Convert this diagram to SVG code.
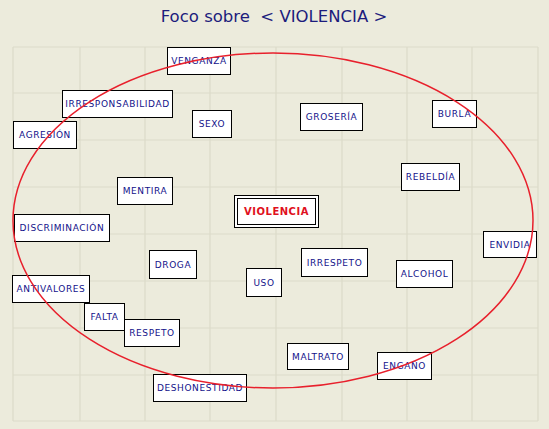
<svg xmlns="http://www.w3.org/2000/svg" width="549" height="429" viewBox="0 0 549 429">
<style>
.bg{fill:#ecebdc}
.grid line{stroke:#dcdbc9;stroke-width:1.2}
.box{fill:#ffffff;stroke:#000000;stroke-width:1}
.lbl{font-family:"DejaVu Sans",sans-serif;font-size:9px;fill:#12128a;text-anchor:middle;dominant-baseline:central;letter-spacing:0.6px}
.main{font-family:"DejaVu Sans",sans-serif;font-size:10px;font-weight:bold;fill:#e01020;text-anchor:middle;dominant-baseline:central;letter-spacing:0.5px}
.title{font-family:"DejaVu Sans",sans-serif;font-size:16.5px;fill:#1c1c7c;text-anchor:middle}
.ring{fill:none;stroke:#e8202c;stroke-width:1.5}
</style>
<rect class="bg" x="0" y="0" width="549" height="429"/>
<text class="title" x="274" y="22">Foco sobre &#160;&lt; VIOLENCIA &gt;</text>
<g class="grid">
<line x1="13" y1="47" x2="13" y2="421"/>
<line x1="80" y1="47" x2="80" y2="421"/>
<line x1="145" y1="47" x2="145" y2="421"/>
<line x1="210" y1="47" x2="210" y2="421"/>
<line x1="276" y1="47" x2="276" y2="421"/>
<line x1="342" y1="47" x2="342" y2="421"/>
<line x1="407" y1="47" x2="407" y2="421"/>
<line x1="472" y1="47" x2="472" y2="421"/>
<line x1="538" y1="47" x2="538" y2="421"/>
<line x1="13" y1="47" x2="538" y2="47"/>
<line x1="13" y1="93" x2="538" y2="93"/>
<line x1="13" y1="140" x2="538" y2="140"/>
<line x1="13" y1="187" x2="538" y2="187"/>
<line x1="13" y1="234" x2="538" y2="234"/>
<line x1="13" y1="281" x2="538" y2="281"/>
<line x1="13" y1="328" x2="538" y2="328"/>
<line x1="13" y1="375" x2="538" y2="375"/>
<line x1="13" y1="421" x2="538" y2="421"/>
</g>
<g id="connectors"></g>
<g id="n-venganza"><rect class="box" x="167.5" y="47.5" width="63" height="27"/><text class="lbl" x="199" y="61">VENGANZA</text></g>
<g id="n-irresponsabilidad"><rect class="box" x="62.5" y="90.5" width="110" height="27"/><text class="lbl" x="117.5" y="104">IRRESPONSABILIDAD</text></g>
<g id="n-agresion"><rect class="box" x="13.5" y="121.5" width="63" height="27"/><text class="lbl" x="45" y="135">AGRESIÓN</text></g>
<g id="n-sexo"><rect class="box" x="192.5" y="110.5" width="39" height="27"/><text class="lbl" x="212" y="124">SEXO</text></g>
<g id="n-groseria"><rect class="box" x="300.5" y="103.5" width="62" height="27"/><text class="lbl" x="331.5" y="117">GROSERÍA</text></g>
<g id="n-burla"><rect class="box" x="432.5" y="100.5" width="44" height="27"/><text class="lbl" x="454.5" y="114">BURLA</text></g>
<g id="n-rebeldia"><rect class="box" x="401.5" y="163.5" width="58" height="27"/><text class="lbl" x="430.5" y="177">REBELDÍA</text></g>
<g id="n-mentira"><rect class="box" x="117.5" y="177.5" width="55" height="27"/><text class="lbl" x="145" y="191">MENTIRA</text></g>
<g id="n-discriminacion"><rect class="box" x="14.5" y="214.5" width="95" height="27"/><text class="lbl" x="62" y="228">DISCRIMINACIÓN</text></g>
<g id="n-droga"><rect class="box" x="149.5" y="250.5" width="47" height="28"/><text class="lbl" x="173" y="264.5">DROGA</text></g>
<g id="n-antivalores"><rect class="box" x="12.5" y="275.5" width="77" height="27"/><text class="lbl" x="51" y="289">ANTIVALORES</text></g>
<g id="n-violencia"><rect class="box" x="234.5" y="195.5" width="84" height="32"/><rect fill="none" stroke="#000" stroke-width="1" x="237.5" y="198.5" width="78" height="26"/><text class="main" x="276.5" y="211.5">VIOLENCIA</text></g>
<g id="n-irrespeto"><rect class="box" x="301.5" y="248.5" width="66" height="28"/><text class="lbl" x="334.5" y="262.5">IRRESPETO</text></g>
<g id="n-uso"><rect class="box" x="246.5" y="268.5" width="35" height="28"/><text class="lbl" x="264" y="282.5">USO</text></g>
<g id="n-alcohol"><rect class="box" x="396.5" y="260.5" width="56" height="27"/><text class="lbl" x="424.5" y="274">ALCOHOL</text></g>
<g id="n-envidia"><rect class="box" x="483.5" y="231.5" width="53" height="26"/><text class="lbl" x="510" y="244.5">ENVIDIA</text></g>
<g id="n-falta"><rect class="box" x="84.5" y="303.5" width="40" height="27"/><text class="lbl" x="104.5" y="317">FALTA</text></g>
<g id="n-respeto"><rect class="box" x="124.5" y="319.5" width="55" height="27"/><text class="lbl" x="152" y="333">RESPETO</text></g>
<g id="n-deshonestidad"><rect class="box" x="153.5" y="374.5" width="93" height="27"/><text class="lbl" x="200" y="388">DESHONESTIDAD</text></g>
<g id="n-maltrato"><rect class="box" x="287.5" y="343.5" width="61" height="26"/><text class="lbl" x="318" y="356.5">MALTRATO</text></g>
<g id="n-engano"><rect class="box" x="377.5" y="352.5" width="54" height="27"/><text class="lbl" x="404.5" y="366">ENGAÑO</text></g>
<ellipse class="ring" cx="273" cy="220.5" rx="260" ry="167.5"/>
</svg>
